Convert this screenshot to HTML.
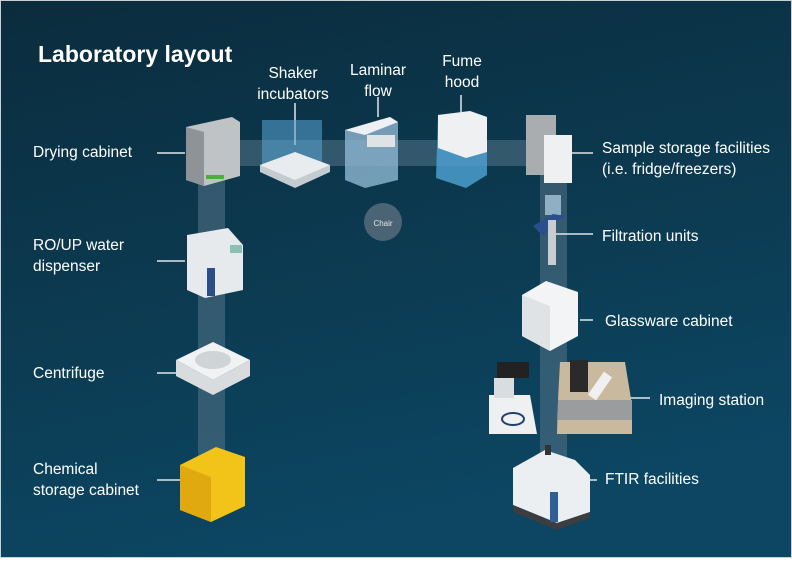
<!DOCTYPE html>
<html><head><meta charset="utf-8"><style>
html,body{margin:0;padding:0;}
body{width:792px;height:558px;overflow:hidden;font-family:"Liberation Sans",sans-serif;}
</style></head><body>
<svg width="792" height="558" viewBox="0 0 792 558" xmlns="http://www.w3.org/2000/svg" font-family="Liberation Sans, sans-serif">
<defs>
<linearGradient id="bg" x1="0" y1="0" x2="0.3" y2="1">
<stop offset="0" stop-color="#0b2c3d"/><stop offset="1" stop-color="#0c4662"/>
</linearGradient>
</defs>
<rect x="0" y="0" width="792" height="558" fill="url(#bg)"/>
<rect x="0.5" y="0.5" width="791" height="557" fill="none" stroke="#c9d0d4" stroke-width="1"/>
<g fill="#4f6f84" opacity="0.6">
<rect x="200" y="140" width="366" height="26"/>
<rect x="198" y="166" width="27" height="305"/>
<rect x="540" y="166" width="27" height="305"/>
</g>
<text x="38" y="62" font-size="23" font-weight="bold" fill="#fff">Laboratory layout</text>
<g fill="#fff" font-size="15.5">
<text x="33" y="157">Drying cabinet</text>
<text x="33" y="250">RO/UP water</text><text x="33" y="271">dispenser</text>
<text x="33" y="378">Centrifuge</text>
<text x="33" y="474">Chemical</text><text x="33" y="495">storage cabinet</text>
<text x="293" y="78" text-anchor="middle">Shaker</text><text x="293" y="99" text-anchor="middle">incubators</text>
<text x="378" y="75" text-anchor="middle">Laminar</text><text x="378" y="96" text-anchor="middle">flow</text>
<text x="462" y="66" text-anchor="middle">Fume</text><text x="462" y="87" text-anchor="middle">hood</text>
<text x="602" y="153">Sample storage facilities</text><text x="602" y="174">(i.e. fridge/freezers)</text>
<text x="602" y="241">Filtration units</text>
<text x="605" y="326">Glassware cabinet</text>
<text x="659" y="405">Imaging station</text>
<text x="605" y="484">FTIR facilities</text>
</g>
<g stroke="#dfe6ea" stroke-width="1.5">
<line x1="157" y1="153" x2="185" y2="153"/>
<line x1="157" y1="261" x2="185" y2="261"/>
<line x1="157" y1="373" x2="180" y2="373"/>
<line x1="157" y1="480" x2="180" y2="480"/>
<line x1="295" y1="103" x2="295" y2="145"/>
<line x1="378" y1="97" x2="378" y2="117"/>
<line x1="461" y1="95" x2="461" y2="118"/>
<line x1="570" y1="153" x2="593" y2="153"/>
<line x1="555" y1="234" x2="593" y2="234"/>
<line x1="580" y1="320" x2="593" y2="320"/>
<line x1="630" y1="398" x2="650" y2="398"/>
<line x1="588" y1="480" x2="597" y2="480"/>
</g>
<polygon points="186,127 232,117 240,122 240,176 204,186 186,180" fill="#bfc3c6"/>
<polygon points="186,127 204,132 204,186 186,180" fill="#8e9397"/>
<rect x="206" y="175" width="18" height="4" fill="#4cae3e"/>
<rect x="262" y="120" width="60" height="45" fill="#5aa6d6" opacity="0.55"/>
<polygon points="260,165 295,152 330,165 295,186" fill="#e8ecee"/>
<polygon points="260,165 295,180 330,165 330,172 295,188 260,172" fill="#c5ccd1"/>
<polygon points="345,130 390,117 398,122 398,180 365,188 345,180" fill="#8fb7d2" opacity="0.8"/>
<polygon points="345,130 390,117 398,122 365,135" fill="#eef1f3"/>
<rect x="367" y="135" width="28" height="12" fill="#dfe3e6"/>
<polygon points="438,115 470,111 487,117 487,175 466,188 436,178" fill="#4c9dcf" opacity="0.85"/>
<polygon points="438,115 470,111 487,117 487,152 466,158 438,148" fill="#eef0f2"/>
<rect x="526" y="115" width="30" height="60" fill="#a9adb0"/>
<rect x="544" y="135" width="28" height="48" fill="#eef0f1"/>
<circle cx="383" cy="222" r="19" fill="#4a6475"/>
<text x="383" y="226" font-size="8" fill="#e0e6ea" text-anchor="middle">Chair</text>
<polygon points="187,235 228,228 243,245 243,290 205,298 187,290" fill="#e7eaec"/>
<rect x="230" y="245" width="12" height="8" fill="#8cc0b3"/>
<rect x="207" y="268" width="8" height="28" fill="#2b4f86"/>
<polygon points="176,360 213,342 250,360 213,380" fill="#f0f2f3"/>
<polygon points="176,360 213,380 250,360 250,376 213,395 176,376" fill="#d8dcde"/>
<ellipse cx="213" cy="360" rx="18" ry="9" fill="#cfd4d7"/>
<polygon points="180,465 216,447 245,457 245,506 211,522 180,510" fill="#f2c318"/>
<polygon points="180,465 211,477 211,522 180,510" fill="#e0a90f"/>
<rect x="545" y="195" width="16" height="20" fill="#a8c4db" opacity="0.8"/>
<path d="M533,226 l20,-12 l12,2 l-12,8 l-10,12 z" fill="#2a4f8f"/>
<rect x="548" y="220" width="8" height="45" fill="#c9cdd0"/>
<polygon points="522,295 546,281 578,292 578,336 550,351 522,336" fill="#f2f4f5"/>
<polygon points="522,295 550,306 550,351 522,336" fill="#dfe3e6"/>
<polygon points="489,395 530,395 537,434 489,434" fill="#eef0f1"/>
<ellipse cx="513" cy="419" rx="11" ry="6" fill="none" stroke="#24416d" stroke-width="2"/>
<rect x="497" y="362" width="32" height="16" fill="#222"/>
<rect x="494" y="378" width="20" height="20" fill="#dadde0"/>
<polygon points="560,362 625,362 632,405 632,434 557,434 558,400" fill="#c9b99f"/>
<rect x="558" y="400" width="74" height="20" fill="#9b9c9d"/>
<rect x="570" y="360" width="18" height="32" fill="#2a2a2a"/>
<rect x="595" y="372" width="10" height="28" fill="#f0f0f0" transform="rotate(35 600 386)"/>
<polygon points="513,468 545,450 575,460 590,475 590,512 557,523 513,505" fill="#eceff1"/>
<polygon points="513,505 557,523 590,512 590,518 557,530 513,512" fill="#3b3d40"/>
<rect x="550" y="492" width="8" height="30" fill="#2f5f95"/>
<rect x="545" y="445" width="6" height="10" fill="#333"/>
</svg>
</body></html>
